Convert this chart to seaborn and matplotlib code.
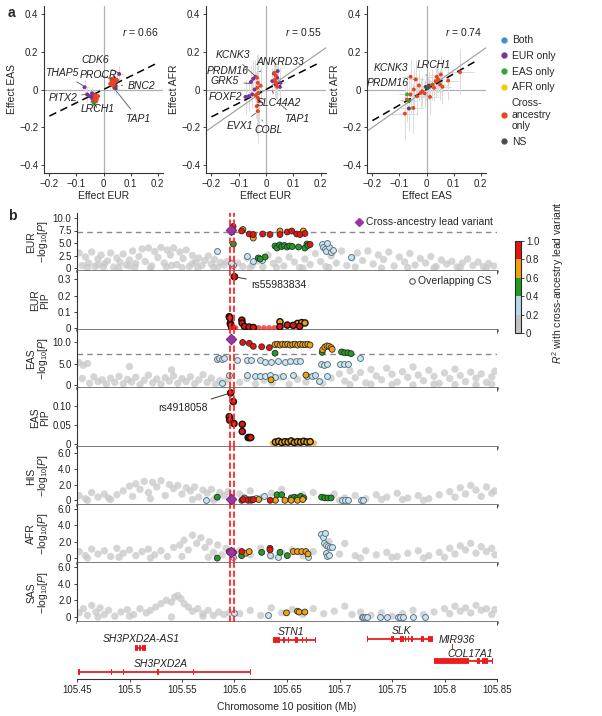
import numpy as np
import pandas as pd
import matplotlib
matplotlib.use("Agg")
import matplotlib.pyplot as plt
import seaborn as sns
from matplotlib.colors import ListedColormap, BoundaryNorm
from matplotlib.cm import ScalarMappable
from matplotlib.lines import Line2D
from matplotlib.ticker import FuncFormatter

sns.set_theme(style="ticks")
plt.rcParams["font.family"] = ["Liberation Sans", "DejaVu Sans"]
plt.rcParams["mathtext.fontset"] = "custom"
plt.rcParams["mathtext.rm"] = "Liberation Sans"
plt.rcParams["mathtext.it"] = "Liberation Sans:italic"
plt.rcParams["axes.unicode_minus"] = True

# ------------------------------------------------------------------ panel a data
a1_x = [-0.045, -0.040, -0.035, -0.050, -0.042, -0.038, -0.070, -0.060, 0.030, 0.036, 0.045, 0.058, 0.050, 0.040,
        -0.030, -0.025, -0.035, -0.020, -0.030, -0.028, 0.030, 0.035, 0.040, 0.025, 0.045, 0.035, 0.040, 0.030, 0.050, 0.033,
        -0.035, 0.045]
a1_y = [-0.040, -0.050, -0.030, -0.035, -0.020, -0.065, 0.012, -0.026, 0.050, 0.030, 0.020, 0.082, 0.045, 0.010,
        -0.040, -0.050, -0.055, -0.035, -0.030, -0.062, 0.040, 0.050, 0.035, 0.030, 0.045, 0.020, 0.060, 0.055, 0.050, 0.035,
        -0.075, 0.005]
a1_cat = ["EUR only"] * 14 + ["Cross-ancestry only"] * 16 + ["EAS only", "NS"]
a1_xerr = [0.010, 0.012, 0.010, 0.014, 0.011, 0.012, 0.015, 0.013, 0.010, 0.012, 0.011, 0.014, 0.012, 0.010,
           0.008, 0.009, 0.010, 0.008, 0.009, 0.010, 0.008, 0.009, 0.010, 0.008, 0.009, 0.008, 0.010, 0.009, 0.010, 0.008,
           0.012, 0.015]
a1_yerr = [0.030, 0.035, 0.030, 0.040, 0.032, 0.035, 0.045, 0.040, 0.030, 0.035, 0.032, 0.040, 0.035, 0.030,
           0.025, 0.028, 0.030, 0.025, 0.028, 0.030, 0.025, 0.028, 0.030, 0.025, 0.028, 0.025, 0.030, 0.028, 0.030, 0.025,
           0.035, 0.040]

a2_x = [-0.063, -0.051, -0.075, -0.042, -0.047, -0.039, 0.029, 0.041, 0.053, 0.051, 0.035, 0.023, 0.043, -0.055,
        -0.033, -0.030, -0.032, -0.028, -0.030, -0.026, -0.034, -0.030, -0.038, 0.031, 0.036, 0.033, 0.038, 0.041, 0.034, -0.020]
a2_y = [-0.035, -0.026, -0.039, 0.000, 0.056, 0.067, 0.084, 0.062, 0.035, 0.014, 0.026, 0.044, 0.097, 0.040,
        0.062, 0.035, 0.009, -0.018, -0.044, -0.062, -0.088, -0.114, -0.030, 0.088, 0.074, 0.053, 0.032, 0.014, 0.040, 0.020]
a2_cat = ["EUR only"] * 14 + ["Cross-ancestry only"] * 16
a2_xerr = [0.012, 0.011, 0.014, 0.010, 0.012, 0.011, 0.010, 0.011, 0.012, 0.010, 0.011, 0.010, 0.012, 0.013,
           0.008, 0.009, 0.008, 0.009, 0.008, 0.009, 0.008, 0.009, 0.008, 0.008, 0.009, 0.008, 0.009, 0.008, 0.009, 0.008]
a2_yerr = [0.08, 0.07, 0.09, 0.06, 0.10, 0.09, 0.07, 0.06, 0.08, 0.07, 0.06, 0.07, 0.08, 0.09,
           0.12, 0.15, 0.14, 0.18, 0.16, 0.13, 0.15, 0.17, 0.12, 0.08, 0.07, 0.09, 0.08, 0.07, 0.06, 0.10]

a3_x = [-0.059, -0.040, -0.028, -0.047, -0.059, -0.072, -0.080, -0.049, -0.034, -0.022, 0.013, 0.009, 0.022, 0.034,
        0.043, 0.053, 0.050, 0.059, 0.080, 0.124, 0.038, 0.028, -0.016, -0.007,
        -0.072, -0.065, -0.003, 0.009, -0.065, 0.004]
a3_y = [0.067, 0.053, 0.021, 0.000, -0.026, -0.053, -0.127, -0.097, -0.035, -0.018, -0.039, 0.014, 0.026, 0.044,
        0.053, 0.079, 0.026, 0.014, 0.047, 0.091, 0.067, 0.009, -0.009, -0.021,
        -0.026, -0.062, 0.014, 0.021, -0.100, 0.008]
a3_cat = ["Cross-ancestry only"] * 24 + ["EAS only"] * 2 + ["NS"] * 4
a3_xerr = [0.03, 0.03, 0.02, 0.03, 0.04, 0.03, 0.05, 0.04, 0.03, 0.02, 0.03, 0.02, 0.03, 0.03, 0.02, 0.04, 0.03, 0.03,
           0.04, 0.05, 0.03, 0.02, 0.02, 0.02, 0.03, 0.03, 0.02, 0.02, 0.03, 0.02]
a3_yerr = [0.09, 0.10, 0.08, 0.11, 0.10, 0.12, 0.14, 0.13, 0.10, 0.08, 0.09, 0.07, 0.08, 0.09, 0.07, 0.10, 0.08, 0.09,
           0.10, 0.12, 0.08, 0.07, 0.08, 0.07, 0.10, 0.11, 0.07, 0.07, 0.12, 0.06]

a_slopes = [0.70, 0.72, 0.82]
a_r = ["0.66", "0.55", "0.74"]

a1_labels = [("CDK6", -0.032, 0.153, 0.058, 0.085), ("THAP5", -0.155, 0.088, -0.070, 0.016),
             ("PROCR", -0.017, 0.074, 0.040, 0.052), ("BNC2", 0.139, 0.021, 0.060, 0.022),
             ("PITX2", -0.151, -0.044, -0.060, -0.024), ("LRCH1", -0.022, -0.102, -0.040, -0.060),
             ("TAP1", 0.128, -0.153, 0.045, -0.004)]
a2_labels = [("KCNK3", -0.122, 0.180, -0.039, 0.070), ("ANKRD33", 0.052, 0.144, -0.030, 0.090),
             ("PRDM16", -0.139, 0.097, -0.047, 0.058), ("GRK5", -0.150, 0.044, -0.052, 0.030),
             ("FOXF2", -0.150, -0.039, -0.066, -0.034), ("SLC44A2", 0.047, -0.070, 0.020, 0.000),
             ("TAP1", 0.114, -0.155, 0.050, -0.075), ("EVX1", -0.097, -0.190, -0.034, -0.120),
             ("COBL", 0.010, -0.215, -0.015, -0.160)]
a3_labels = [("KCNK3", -0.130, 0.114, -0.059, 0.070), ("LRCH1", 0.026, 0.127, -0.005, 0.070),
             ("PRDM16", -0.143, 0.032, -0.048, 0.052)]

cat_order = ["Both", "EUR only", "EAS only", "AFR only", "Cross-ancestry only", "NS"]
cat_colors = {"Both": "#3d8fd6", "EUR only": "#7b3294", "EAS only": "#33a532",
              "AFR only": "#f2c80f", "Cross-ancestry only": "#e5461f", "NS": "#4d4d4d"}

# ------------------------------------------------------------------ panel b data
lead_pos = 105.5964
lead_vals = {"EUR": 7.66, "EAS": 10.6, "HIS": 0.2, "AFR": 0.73}
gw_threshold = 7.3
red_lines = [105.5955, 105.5995]

eur_gray = [(105.452, 3.0), (105.455, 0.5), (105.458, 2.2), (105.461, 1.0), (105.464, 3.2), (105.467, 0.3),
            (105.470, 1.8), (105.473, 2.6), (105.476, 0.8), (105.479, 1.4), (105.482, 3.0), (105.485, 0.2),
            (105.488, 2.0), (105.491, 1.1), (105.494, 2.8), (105.497, 0.6), (105.500, 1.6), (105.503, 3.4),
            (105.506, 0.9), (105.509, 2.3), (105.512, 3.8), (105.515, 1.3), (105.518, 4.0), (105.521, 0.4),
            (105.524, 3.3), (105.527, 2.1), (105.530, 4.1), (105.533, 1.0), (105.536, 3.6), (105.539, 2.6),
            (105.542, 4.0), (105.545, 0.7), (105.548, 3.2), (105.551, 1.9), (105.554, 3.6), (105.557, 0.3),
            (105.560, 2.5), (105.563, 1.2), (105.566, 2.0), (105.569, 0.5), (105.572, 1.5), (105.575, 2.4),
            (105.578, 0.8), (105.581, 1.7), (105.584, 0.2), (105.587, 1.1), (105.590, 0.6), (105.593, 1.3),
            (105.460, 0.1), (105.475, 0.2), (105.490, 0.0), (105.505, 0.1), (105.520, 0.0), (105.535, 0.2),
            (105.550, 0.1), (105.565, 0.0), (105.580, 0.1), (105.470, 0.6), (105.500, 0.4), (105.540, 0.5),
            (105.560, 0.9),
            (105.603, 1.0), (105.608, 0.3), (105.612, 2.0), (105.617, 0.6), (105.622, 1.4), (105.627, 0.2),
            (105.632, 2.6), (105.637, 0.9), (105.642, 1.6), (105.647, 0.4), (105.652, 2.2), (105.657, 1.2),
            (105.662, 0.1), (105.667, 1.8), (105.672, 0.7), (105.677, 2.9), (105.682, 1.3), (105.687, 0.3),
            (105.692, 2.4), (105.697, 1.0), (105.702, 3.4), (105.707, 0.5), (105.712, 2.0), (105.717, 3.0),
            (105.722, 1.5), (105.727, 3.4), (105.732, 0.8), (105.737, 2.6), (105.742, 1.7), (105.747, 3.2),
            (105.752, 0.4), (105.757, 2.2), (105.762, 1.2), (105.767, 2.9), (105.772, 0.6), (105.777, 1.9),
            (105.782, 1.0), (105.787, 2.3), (105.792, 0.3), (105.797, 1.6), (105.802, 0.8), (105.807, 1.3),
            (105.812, 0.2), (105.817, 1.0), (105.822, 1.8), (105.827, 0.5), (105.832, 1.2), (105.837, 0.3),
            (105.842, 0.9), (105.847, 0.4), (105.615, 0.0), (105.640, 0.1), (105.665, 0.0), (105.690, 0.1),
            (105.715, 0.2), (105.740, 0.0), (105.765, 0.1), (105.790, 0.0), (105.815, 0.1), (105.840, 0.0)]

eas_gray = [(105.452, 5.2), (105.456, 4.6), (105.460, 5.0), (105.455, 1.5), (105.462, 0.4), (105.466, 1.9),
            (105.470, 0.8), (105.474, 1.2), (105.478, 0.2), (105.482, 1.6), (105.486, 0.6), (105.490, 2.0),
            (105.494, 0.3), (105.498, 1.3), (105.502, 0.7), (105.506, 1.8), (105.510, 0.1), (105.514, 1.1),
            (105.518, 2.3), (105.522, 0.5), (105.526, 1.4), (105.530, 0.2), (105.534, 1.7), (105.538, 0.9),
            (105.542, 2.1), (105.546, 0.4), (105.550, 1.5), (105.554, 0.8), (105.558, 1.9), (105.562, 0.3),
            (105.566, 1.2), (105.570, 2.4), (105.574, 0.6), (105.578, 1.6), (105.582, 0.2), (105.586, 1.0),
            (105.590, 0.5), (105.594, 1.4), (105.500, 4.3), (105.540, 3.5),
            (105.605, 0.6), (105.612, 1.5), (105.620, 0.3), (105.628, 1.1), (105.636, 0.5), (105.644, 1.8),
            (105.652, 0.2), (105.660, 1.3), (105.668, 0.7), (105.676, 2.0), (105.684, 0.4), (105.692, 1.6),
            (105.700, 2.6), (105.705, 0.9), (105.710, 3.3), (105.715, 1.7), (105.720, 2.9), (105.725, 0.5),
            (105.730, 3.6), (105.735, 2.1), (105.740, 1.2), (105.745, 3.9), (105.750, 2.5), (105.755, 0.7),
            (105.760, 3.1), (105.765, 1.8), (105.770, 4.2), (105.775, 2.3), (105.780, 1.0), (105.785, 3.4),
            (105.790, 2.0), (105.795, 0.4), (105.800, 2.8), (105.805, 1.5), (105.810, 3.7), (105.815, 2.2),
            (105.820, 0.8), (105.825, 3.0), (105.830, 1.6), (105.835, 2.6), (105.840, 0.6), (105.845, 1.9),
            (105.848, 3.2), (105.710, 0.1), (105.730, 0.2), (105.750, 0.1), (105.770, 0.0), (105.790, 0.2),
            (105.810, 0.1), (105.830, 0.0), (105.845, 0.2)]

his_gray = [(105.452, 0.6), (105.458, 0.2), (105.464, 1.0), (105.470, 0.4), (105.476, 0.8), (105.482, 0.1),
            (105.488, 0.7), (105.494, 1.2), (105.500, 1.8), (105.503, 0.5), (105.506, 2.1), (105.510, 1.4),
            (105.514, 2.4), (105.518, 1.0), (105.522, 2.3), (105.526, 1.7), (105.530, 2.5), (105.534, 0.6),
            (105.538, 2.0), (105.542, 1.5), (105.546, 1.9), (105.550, 0.8), (105.554, 1.6), (105.558, 1.2),
            (105.562, 1.7), (105.566, 0.4), (105.570, 1.3), (105.574, 0.9), (105.578, 1.4), (105.582, 0.3),
            (105.586, 1.0), (105.590, 0.6), (105.594, 1.1), (105.598, 0.4), (105.460, 0.0), (105.480, 0.3),
            (105.520, 0.2), (105.560, 0.1), (105.580, 0.0),
            (105.605, 0.8), (105.615, 1.2), (105.625, 0.3), (105.635, 0.9), (105.645, 1.4), (105.655, 0.2),
            (105.665, 0.7), (105.675, 1.0), (105.685, 0.4), (105.695, 0.8), (105.705, 0.3), (105.715, 0.6),
            (105.725, 0.2), (105.735, 0.7), (105.745, 0.4), (105.755, 0.9), (105.765, 0.3), (105.775, 0.6),
            (105.785, 0.2), (105.795, 0.7), (105.805, 1.1), (105.810, 0.4), (105.815, 1.6), (105.820, 0.8),
            (105.825, 1.9), (105.830, 1.3), (105.835, 0.5), (105.840, 1.7), (105.845, 0.9), (105.848, 1.2),
            (105.700, 0.0), (105.740, 0.1), (105.780, 0.0), (105.760, 0.1)]

afr_gray = [(105.452, 0.8), (105.458, 0.3), (105.464, 1.1), (105.470, 0.5), (105.476, 0.9), (105.482, 0.2),
            (105.488, 1.2), (105.494, 0.6), (105.500, 1.0), (105.506, 0.3), (105.512, 0.8), (105.518, 1.1),
            (105.524, 0.4), (105.530, 0.9), (105.536, 0.2), (105.542, 1.3), (105.548, 1.6), (105.552, 2.2),
            (105.556, 1.0), (105.560, 2.8), (105.564, 1.8), (105.568, 2.5), (105.572, 1.3), (105.576, 2.0),
            (105.580, 0.7), (105.584, 1.6), (105.588, 0.4), (105.592, 1.2), (105.596, 0.6), (105.460, 0.0),
            (105.490, 0.1), (105.520, 0.0), (105.550, 0.2), (105.575, 0.1),
            (105.605, 0.9), (105.615, 0.4), (105.625, 1.2), (105.635, 0.2), (105.645, 0.7), (105.655, 1.0),
            (105.665, 0.3), (105.675, 0.8), (105.690, 2.0), (105.700, 0.5), (105.705, 1.8), (105.715, 0.3),
            (105.725, 0.9), (105.735, 0.4), (105.745, 0.7), (105.755, 0.2), (105.765, 0.6), (105.775, 0.9),
            (105.785, 0.3), (105.795, 0.7), (105.805, 1.2), (105.810, 0.5), (105.815, 1.5), (105.820, 1.0),
            (105.825, 1.8), (105.830, 0.6), (105.835, 1.4), (105.840, 0.8), (105.845, 1.2), (105.848, 0.4),
            (105.720, 0.0), (105.750, 0.1), (105.780, 0.0), (105.800, 0.1)]

sas_gray = [(105.452, 0.5), (105.456, 1.0), (105.460, 0.2), (105.464, 1.4), (105.468, 0.6), (105.472, 1.1),
            (105.476, 0.3), (105.480, 0.8), (105.486, 0.1), (105.492, 0.6), (105.498, 0.9), (105.504, 0.3),
            (105.510, 1.0), (105.516, 0.5), (105.520, 0.8), (105.525, 1.2), (105.530, 1.6), (105.535, 2.0),
            (105.540, 1.8), (105.543, 2.4), (105.546, 2.6), (105.549, 2.2), (105.552, 1.6), (105.556, 1.2),
            (105.560, 0.7), (105.565, 1.0), (105.570, 0.4), (105.575, 0.8), (105.580, 0.2), (105.585, 0.6),
            (105.590, 0.3), (105.595, 0.5), (105.470, 0.0), (105.500, 0.1), (105.540, 0.0), (105.570, 0.1),
            (105.605, 0.4), (105.615, 0.8), (105.625, 0.2), (105.635, 1.1), (105.645, 0.5), (105.655, 0.9),
            (105.665, 0.3), (105.675, 1.0), (105.685, 0.4), (105.695, 0.7), (105.705, 1.3), (105.712, 0.3),
            (105.720, 0.6), (105.730, 0.2), (105.740, 0.5), (105.750, 0.1), (105.760, 0.4), (105.770, 0.8),
            (105.780, 0.3), (105.790, 0.6), (105.800, 1.0), (105.805, 0.4), (105.810, 1.3), (105.815, 0.7),
            (105.820, 1.1), (105.825, 0.5), (105.830, 1.4), (105.835, 0.8), (105.840, 1.0), (105.845, 0.3),
            (105.848, 0.9)]

# (position, value, R2 with lead variant)
eur_col = [(105.5986, 8.3, 0.9), (105.5989, 4.8, 0.5), (105.5836, 3.46, 0.3), (105.5990, 0.6, 0.3), (105.5970, 1.0, 0.3),
           (105.6068, 7.4, 0.9), (105.6080, 7.7, 0.7), (105.6141, 6.8, 0.9), (105.6179, 6.7, 0.9), (105.6179, 6.0, 0.7),
           (105.6268, 6.8, 0.9), (105.6338, 6.7, 0.9), (105.6433, 7.4, 0.7), (105.6433, 6.7, 0.9), (105.6503, 7.2, 0.9),
           (105.6545, 7.4, 0.9), (105.6592, 6.8, 0.9), (105.6624, 6.7, 0.9), (105.6655, 7.4, 0.7), (105.6671, 6.9, 0.9),
           (105.6386, 4.4, 0.5), (105.6405, 4.0, 0.5), (105.6430, 4.6, 0.5), (105.6450, 4.3, 0.5), (105.6475, 4.5, 0.5),
           (105.6500, 4.2, 0.5), (105.6525, 4.4, 0.5), (105.6550, 4.3, 0.5), (105.6610, 4.2, 0.5), (105.6670, 4.0, 0.5),
           (105.6690, 4.8, 0.5), (105.6700, 4.5, 0.5), (105.6720, 4.7, 0.9), (105.6227, 2.0, 0.5), (105.6291, 2.2, 0.5),
           (105.6245, 1.8, 0.5), (105.6116, 2.5, 0.3), (105.6179, 1.5, 0.3), (105.6259, 1.6, 0.3), (105.6830, 4.8, 0.3),
           (105.6845, 4.3, 0.3), (105.6860, 3.8, 0.3), (105.6870, 3.4, 0.3), (105.6900, 4.2, 0.3), (105.6920, 3.3, 0.3),
           (105.6940, 3.6, 0.3), (105.7106, 2.3, 0.3), (105.6880, 5.0, 0.3)]

eas_col = [(105.6078, 9.9, 0.9), (105.6141, 9.7, 0.9), (105.6179, 9.0, 0.9), (105.6259, 8.9, 0.9), (105.6332, 8.7, 0.9),
           (105.6386, 7.4, 0.5),
           (105.6386, 9.4, 0.7), (105.6410, 9.5, 0.7), (105.6434, 9.3, 0.7), (105.6458, 9.5, 0.7), (105.6482, 9.4, 0.7),
           (105.6506, 9.5, 0.7), (105.6530, 9.3, 0.7), (105.6554, 9.4, 0.7), (105.6578, 9.5, 0.7), (105.6602, 9.3, 0.7),
           (105.6626, 9.5, 0.7), (105.6650, 9.4, 0.7), (105.6674, 9.4, 0.7), (105.6698, 9.5, 0.7), (105.6719, 9.3, 0.7),
           (105.6840, 8.2, 0.7), (105.6860, 8.8, 0.7), (105.6880, 9.1, 0.7), (105.6900, 9.0, 0.7), (105.6920, 8.7, 0.7),
           (105.6930, 8.3, 0.7), (105.6835, 7.6, 0.5), (105.7020, 7.7, 0.5), (105.7050, 7.5, 0.5), (105.7080, 7.5, 0.5),
           (105.7110, 7.3, 0.5), (105.7195, 6.3, 0.3),
           (105.5830, 6.0, 0.3), (105.5855, 6.2, 0.3), (105.5878, 6.0, 0.3), (105.5900, 6.2, 0.3), (105.6020, 5.9, 0.3),
           (105.6116, 5.8, 0.3), (105.6160, 5.9, 0.3), (105.6240, 5.8, 0.3), (105.6290, 5.3, 0.3), (105.6350, 5.3, 0.3),
           (105.6414, 5.5, 0.3), (105.6478, 5.4, 0.3), (105.6525, 5.6, 0.3), (105.6590, 5.6, 0.3), (105.6620, 5.5, 0.3),
           (105.6820, 4.9, 0.3), (105.6850, 4.7, 0.3), (105.6880, 5.0, 0.3), (105.7000, 4.9, 0.3), (105.7040, 4.8, 0.3),
           (105.7080, 4.9, 0.3),
           (105.5878, 0.5, 0.3), (105.5950, 2.3, 0.3), (105.6116, 2.3, 0.3), (105.6195, 2.0, 0.3), (105.6240, 2.2, 0.3),
           (105.6290, 2.0, 0.3), (105.6340, 2.3, 0.3), (105.6386, 1.8, 0.3), (105.6465, 2.1, 0.3), (105.6560, 2.3, 0.3),
           (105.6690, 2.2, 0.3), (105.6735, 2.0, 0.3), (105.6770, 2.3, 0.3), (105.6800, 1.0, 0.3), (105.6880, 2.1, 0.3),
           (105.6348, 1.2, 0.7), (105.6680, 2.3, 0.7)]

his_col = [(105.5729, 0.0, 0.3), (105.5836, 0.4, 0.5), (105.6070, 0.0, 0.9), (105.6085, 0.1, 0.9), (105.6130, 0.0, 0.9),
           (105.6160, 0.0, 0.9), (105.6180, 0.1, 0.9), (105.6340, 0.0, 0.9), (105.6095, 0.3, 0.7), (105.6230, 0.1, 0.7),
           (105.6390, 0.0, 0.7), (105.6480, 0.0, 0.7), (105.6540, 0.0, 0.7), (105.6600, 0.0, 0.7), (105.6650, 0.1, 0.7),
           (105.6405, 0.7, 0.5), (105.6450, 0.7, 0.5), (105.6540, 0.3, 0.5), (105.6570, 0.4, 0.5), (105.6600, 0.3, 0.5),
           (105.6630, 0.5, 0.5), (105.6660, 0.3, 0.5), (105.6830, 0.4, 0.5), (105.6860, 0.3, 0.5), (105.6890, 0.3, 0.5),
           (105.6920, 0.3, 0.5), (105.6115, 0.2, 0.3), (105.6150, 0.2, 0.3), (105.6200, 0.3, 0.3), (105.6280, 0.6, 0.3),
           (105.7020, 0.1, 0.3), (105.7050, 0.1, 0.3), (105.7080, 0.1, 0.3), (105.7200, 0.0, 0.3), (105.7220, 0.0, 0.3)]

afr_col = [(105.5836, 0.0, 0.5), (105.5950, 0.8, 0.9), (105.5990, 0.7, 0.9), (105.6070, 0.8, 0.9), (105.6338, 1.2, 0.9),
           (105.6338, 1.0, 0.9), (105.6068, 0.3, 0.5), (105.6259, 0.7, 0.5), (105.6433, 0.7, 0.5), (105.6503, 0.3, 0.5),
           (105.6110, 0.6, 0.7), (105.6140, 0.8, 0.7), (105.6560, 0.8, 0.7), (105.6600, 0.8, 0.7), (105.6640, 0.8, 0.7),
           (105.6680, 0.8, 0.7), (105.6700, 0.5, 0.7), (105.6338, 0.4, 0.3), (105.6414, 0.1, 0.3), (105.6700, 0.1, 0.3),
           (105.5990, 0.1, 0.3), (105.6820, 3.0, 0.3), (105.6840, 2.6, 0.3), (105.6860, 3.1, 0.3), (105.6850, 1.9, 0.3),
           (105.6870, 1.6, 0.3), (105.6890, 1.5, 0.3), (105.6910, 1.3, 0.3), (105.6930, 1.4, 0.3), (105.6870, 0.6, 0.3),
           (105.6880, 0.2, 0.3), (105.6900, 0.4, 0.3)]

sas_col = [(105.5994, 0.5, 0.3), (105.6320, 0.2, 0.3), (105.6495, 0.5, 0.7), (105.6600, 0.7, 0.7), (105.6615, 0.6, 0.7),
           (105.6670, 0.6, 0.7), (105.7210, 0.0, 0.3), (105.7225, 0.0, 0.3), (105.7240, 0.0, 0.3), (105.7260, 0.0, 0.3),
           (105.7390, 0.0, 0.3), (105.7450, 0.0, 0.3), (105.7560, 0.0, 0.3), (105.7580, 0.0, 0.3), (105.7600, 0.0, 0.3),
           (105.7700, 0.0, 0.3), (105.7810, 0.0, 0.3)]

# (position, PIP, R2, in credible set)
eur_pip = [(105.5999, 0.315, 0.9, 1), (105.5950, 0.071, 0.9, 1), (105.5955, 0.064, 0.9, 1), (105.5960, 0.030, 0.9, 1),
           (105.5965, 0.020, 0.9, 1), (105.5975, 0.002, 0.9, 1), (105.6070, 0.050, 0.9, 1), (105.6073, 0.032, 0.9, 1),
           (105.6095, 0.012, 0.9, 1), (105.6140, 0.008, 0.9, 1), (105.6180, 0.005, 0.9, 1), (105.6230, 0.003, 0.9, 0),
           (105.6280, 0.003, 0.9, 0), (105.6330, 0.003, 0.9, 0), (105.6380, 0.003, 0.9, 0), (105.6010, 0.003, 0.9, 0),
           (105.6433, 0.040, 0.7, 1), (105.6433, 0.010, 0.9, 1), (105.6503, 0.020, 0.9, 1), (105.6560, 0.018, 0.9, 1),
           (105.6600, 0.030, 0.7, 1), (105.6640, 0.035, 0.7, 1), (105.6671, 0.033, 0.7, 1), (105.6620, 0.012, 0.9, 1)]
eas_pip = [(105.5964, 0.135, 0.9, 1), (105.5989, 0.112, 0.9, 1), (105.5950, 0.072, 0.9, 1), (105.5955, 0.063, 0.9, 1),
           (105.5995, 0.054, 0.9, 1), (105.6074, 0.052, 0.9, 1), (105.6074, 0.033, 0.9, 1), (105.6130, 0.017, 0.9, 1),
           (105.6145, 0.017, 0.9, 1), (105.6155, 0.017, 0.9, 1),
           (105.6360, 0.002, 0.7, 0), (105.6400, 0.002, 0.7, 0), (105.6460, 0.002, 0.7, 0), (105.6550, 0.002, 0.7, 0),
           (105.6640, 0.002, 0.7, 0), (105.6720, 0.002, 0.7, 0), (105.6760, 0.002, 0.7, 0),
           (105.6390, 0.005, 0.7, 1), (105.6420, 0.007, 0.7, 1), (105.6450, 0.004, 0.7, 1), (105.6480, 0.006, 0.7, 1),
           (105.6510, 0.005, 0.7, 1), (105.6540, 0.008, 0.7, 1), (105.6570, 0.004, 0.7, 1), (105.6600, 0.006, 0.7, 1),
           (105.6630, 0.005, 0.7, 1), (105.6660, 0.007, 0.7, 1), (105.6690, 0.005, 0.7, 1), (105.6720, 0.006, 0.7, 1)]

rs_labels = [("rs55983834", 105.5999, 0.315, 105.6157, 0.264), ("rs4918058", 105.5964, 0.135, 105.5748, 0.096)]

gene_names = ["SH3PXD2A-AS1", "SH3PXD2A", "STN1", "SLK", "MIR936", "COL17A1"]
gene_start = [105.505, 105.451, 105.637, 105.726, 105.8075, 105.790]
gene_end = [105.516, 105.616, 105.678, 105.789, 105.8085, 105.846]
gene_exons = [
    [(105.505, 105.508), (105.509, 105.511), (105.512, 105.516)],
    [(105.451, 105.4525), (105.4825, 105.4838), (105.4935, 105.4948), (105.5265, 105.5278), (105.5605, 105.5618), (105.6145, 105.616)],
    [(105.637, 105.6435), (105.6465, 105.6477), (105.6505, 105.6517), (105.6575, 105.6605), (105.664, 105.6652), (105.668, 105.6692), (105.6765, 105.678)],
    [(105.726, 105.7275), (105.7495, 105.7515), (105.7575, 105.761), (105.762, 105.7635), (105.765, 105.766), (105.7685, 105.7697), (105.7775, 105.7805), (105.7845, 105.789)],
    [(105.8075, 105.8085)],
    [(105.790, 105.823), (105.8305, 105.834), (105.836, 105.8415), (105.845, 105.846)],
]
# track layout (pixel rows inside the gene axis)
gene_row_y = [648, 672, 640, 638.6, 647, 661]
gene_lab_x = [105.511, 105.530, 105.654, 105.759, 105.812, 105.824]
gene_lab_y = [639, 664, 632, 631.5, 640, 654]

R2_COLORS = ["#c3c3c3", "#b8d9ea", "#1f9e24", "#f3a10e", "#e8150d"]
R2_PAL = {f"c{i}": c for i, c in enumerate(R2_COLORS)}
LB_FILL, LB_EDGE = "#cde3ee", "#5b7788"
GRAY_PT = "#c8c8c8"
LEAD_COLOR = "#9b35a6"
RED_LINE = "#ff2a2a"

# ------------------------------------------------------------------ figure
W, H = 602, 716
fig = plt.figure(figsize=(W / 100, H / 100), dpi=100)


def px_axes(l, t, r, b):
    return fig.add_axes([l / W, 1 - b / H, (r - l) / W, (b - t) / H])


def fmt_a(v, pos):
    return "0" if abs(v) < 1e-9 else f"{v:.1f}".replace("-", "\u2212")


def scatter_panel(ax, x, y, xe, ye, cat, slope, identity, r, xlabel, ylabel, labels, dash_end=0.2):
    ax.errorbar(x, y, xerr=xe, yerr=ye, fmt="none", ecolor="#dadada", elinewidth=0.7, zorder=1)
    ax.axhline(0, color="#b0b0b0", lw=0.9, zorder=0.5)
    ax.axvline(0, color="#b0b0b0", lw=0.9, zorder=0.5)
    if identity:
        ax.axline((0, 0), slope=1, color="#9a9a9a", lw=0.8, zorder=2)
    ax.plot([-0.2, dash_end], [-0.2 * slope, dash_end * slope], color="black", lw=1.1, dashes=(5, 3), zorder=2)
    df = pd.DataFrame({"x": x, "y": y, "cat": cat})
    sns.scatterplot(data=df, x="x", y="y", hue="cat", palette=cat_colors, s=8, edgecolor="none",
                    legend=False, ax=ax, zorder=3)
    for name, tx, ty, px_, py_ in labels:
        ax.annotate(name, xy=(px_, py_), xytext=(tx, ty), ha="center", va="center", fontsize=7.5,
                    fontstyle="italic", color="#222222",
                    arrowprops=dict(arrowstyle="-", color="#555555", lw=0.6, shrinkA=1, shrinkB=1))
    ax.text(0.205, 0.302, f"$r$ = {r}", ha="right", va="center", fontsize=7.5, color="#222222")
    ax.set_xlim(-0.22, 0.22)
    ax.set_ylim(-0.44, 0.44)
    ax.set_xticks([-0.2, -0.1, 0, 0.1, 0.2])
    ax.set_yticks([-0.4, -0.2, 0, 0.2, 0.4])
    ax.xaxis.set_major_formatter(FuncFormatter(fmt_a))
    ax.yaxis.set_major_formatter(FuncFormatter(fmt_a))
    ax.set_xlabel(xlabel, fontsize=7.5, labelpad=2)
    ax.set_ylabel(ylabel, fontsize=7.5, labelpad=2)
    ax.tick_params(labelsize=7, length=2.5, width=0.6, pad=1.5, colors="#222222")
    for s in ["top", "right"]:
        ax.spines[s].set_visible(False)
    for s in ["left", "bottom"]:
        ax.spines[s].set_linewidth(0.8)
        ax.spines[s].set_color("#333333")


axA1 = px_axes(44, 6, 163, 173)
axA2 = px_axes(206, 6, 326, 173)
axA3 = px_axes(367, 6, 486, 173)
scatter_panel(axA1, a1_x, a1_y, a1_xerr, a1_yerr, a1_cat, a_slopes[0], False, a_r[0], "Effect EUR", "Effect EAS", a1_labels)
scatter_panel(axA2, a2_x, a2_y, a2_xerr, a2_yerr, a2_cat, a_slopes[1], True, a_r[1], "Effect EUR", "Effect AFR", a2_labels, 0.195)
scatter_panel(axA3, a3_x, a3_y, a3_xerr, a3_yerr, a3_cat, a_slopes[2], True, a_r[2], "Effect EAS", "Effect AFR", a3_labels, 0.185)

handles = [Line2D([], [], marker="o", ls="none", color=cat_colors[c], markersize=3.5) for c in cat_order]
leg_labels = ["Both", "EUR only", "EAS only", "AFR only", "Cross-\nancestry\nonly", "NS"]
fig.legend(handles, leg_labels, loc="upper left", bbox_to_anchor=(495 / W, 1 - 30 / H), frameon=False,
           fontsize=7.5, handletextpad=0.3, handlelength=0.8, labelspacing=0.55, borderpad=0)

fig.text(8 / W, 1 - 13 / H, "a", fontsize=10, fontweight="bold", va="center")
fig.text(8 / W, 1 - 216 / H, "b", fontsize=10, fontweight="bold", va="center")

# ------------------------------------------------------------------ panel b
XL = (105.45, 105.85)
XT = [105.45, 105.5, 105.55, 105.6, 105.65, 105.7, 105.75, 105.8, 105.85]


def style_b(ax, ylim, yticks, yfmt, label):
    ax.set_xlim(*XL)
    ax.set_ylim(*ylim)
    ax.set_xticks(XT)
    ax.set_xticklabels([])
    ax.set_yticks(yticks)
    ax.yaxis.set_major_formatter(FuncFormatter(yfmt))
    ax.tick_params(axis="y", labelsize=7, length=2.5, width=0.6, pad=1.5, colors="#222222")
    ax.tick_params(axis="x", length=2, width=0.6, direction="out", colors="#333333")
    ax.spines["top"].set_visible(False)
    ax.spines["right"].set_visible(False)
    ax.spines["left"].set_linewidth(0.8)
    ax.spines["left"].set_color("#333333")
    ax.spines["bottom"].set_linewidth(1.8)
    ax.spines["bottom"].set_color("#555555")
    ax.set_xlabel("")
    ax.set_ylabel(label, fontsize=7.5, linespacing=1.0)
    ax.yaxis.set_label_coords(-0.064, 0.5)
    for xv in red_lines:
        ax.axvline(xv, color=RED_LINE, lw=1.3, dashes=(3.5, 1.5), zorder=6)


def colored_points(ax, pts, s=18):
    df = pd.DataFrame(pts, columns=["pos", "val", "r2"])
    df["bin"] = [f"c{min(int(r / 0.2), 4)}" for r in df["r2"]]
    df = df.sort_values("r2", kind="stable")
    lb = df[df["bin"] == "c1"]
    rest = df[df["bin"] != "c1"]
    if len(lb):
        sns.scatterplot(data=lb, x="pos", y="val", color=LB_FILL, edgecolor=LB_EDGE, linewidth=0.7, s=s,
                        legend=False, ax=ax, zorder=4)
    if len(rest):
        sns.scatterplot(data=rest, x="pos", y="val", hue="bin", palette=R2_PAL, edgecolor="#2a2a2a",
                        linewidth=0.6, s=s, legend=False, ax=ax, zorder=5)


def manhattan(ax, gray, col, ylim, yticks, yfmt, label, lead=None, thresh=False):
    g = pd.DataFrame(gray, columns=["pos", "val"])
    sns.scatterplot(data=g, x="pos", y="val", color=GRAY_PT, alpha=0.75, s=28, edgecolor="none",
                    legend=False, ax=ax, zorder=2)
    if thresh:
        ax.axhline(gw_threshold, color="#8a8a8a", lw=1.0, dashes=(4, 3), zorder=1)
    colored_points(ax, col)
    if lead is not None:
        sns.scatterplot(x=[lead_pos], y=[lead], marker="D", color=LEAD_COLOR, edgecolor="#5a1a60",
                        linewidth=0.5, s=30, legend=False, ax=ax, zorder=7)
    style_b(ax, ylim, yticks, yfmt, label)


def pip_panel(ax, pts, ylim, yticks, yfmt, label):
    df = pd.DataFrame(pts, columns=["pos", "val", "r2", "cs"])
    df["bin"] = [f"c{min(int(r / 0.2), 4)}" for r in df["r2"]]
    out = df[df["cs"] == 0]
    inn = df[df["cs"] == 1].sort_values("r2", kind="stable")
    sns.scatterplot(data=out, x="pos", y="val", hue="bin", palette=R2_PAL, edgecolor="none", s=16, alpha=0.7,
                    legend=False, ax=ax, zorder=3)
    sns.scatterplot(data=inn, x="pos", y="val", hue="bin", palette=R2_PAL, edgecolor="#111111", linewidth=1.0,
                    s=20, legend=False, ax=ax, zorder=5)
    style_b(ax, ylim, yticks, yfmt, label)


def f_p(v, pos):
    return "0" if abs(v) < 1e-9 else f"{v:.1f}"


def f_pip2(v, pos):
    return "0" if abs(v) < 1e-9 else f"{v:.2f}"


def lab_p(pop):
    return f"{pop}\n\u2212log$_{{10}}$[$P$]"


axE = px_axes(77, 213, 497, 271)
manhattan(axE, eur_gray, eur_col, (-0.6, 11.0), [0, 2.5, 5, 7.5, 10], f_p, lab_p("EUR"), lead_vals["EUR"], True)
axE.legend([Line2D([], [], marker="D", ls="none", color=LEAD_COLOR, markersize=4.5)], ["Cross-ancestry lead variant"],
           loc="upper right", frameon=False, fontsize=7.5, handletextpad=0.2, handlelength=1.0,
           borderaxespad=0.2, borderpad=0.2)

axEP = px_axes(77, 271, 497, 330)
pip_panel(axEP, eur_pip, (-0.01, 0.35), [0, 0.1, 0.2, 0.3], f_p, "EUR\nPIP")
axEP.legend([Line2D([], [], marker="o", ls="none", mfc="white", mec="#555555", mew=0.8, markersize=4)],
            ["Overlapping CS"], loc="upper right", frameon=False, fontsize=7.5, handletextpad=0.1,
            handlelength=1.0, borderaxespad=0.3, borderpad=0.2)

axS = px_axes(77, 330, 497, 388)
manhattan(axS, eas_gray, eas_col, (-0.7, 12.8), [0, 5, 10], f_p, lab_p("EAS"), lead_vals["EAS"], True)

axSP = px_axes(77, 388, 497, 447)
pip_panel(axSP, eas_pip, (-0.008, 0.148), [0, 0.05, 0.10], f_pip2, "EAS\nPIP")

axH = px_axes(77, 447, 497, 505)
manhattan(axH, his_gray, his_col, (-0.6, 6.8), [0, 2, 4, 6], f_p, lab_p("HIS"), lead_vals["HIS"])
axF = px_axes(77, 505, 497, 563)
manhattan(axF, afr_gray, afr_col, (-0.6, 6.5), [0, 2, 4, 6], f_p, lab_p("AFR"), lead_vals["AFR"])
axSA = px_axes(77, 563, 497, 622)
manhattan(axSA, sas_gray, sas_col, (-0.6, 6.5), [0, 2, 4, 6], f_p, lab_p("SAS"))

for (name, px_, py_, tx, ty), ax in zip(rs_labels, [axEP, axSP]):
    ax.annotate(name, xy=(px_, py_), xytext=(tx, ty), ha="left" if tx > px_ else "right", va="center",
                fontsize=7.5, color="#222222",
                arrowprops=dict(arrowstyle="-", color="#333333", lw=0.7, shrinkA=1, shrinkB=2), zorder=8)

# gene track
axG = px_axes(77, 622, 497, 679)
for i, name in enumerate(gene_names):
    yy = gene_row_y[i]
    axG.hlines(yy, gene_start[i], gene_end[i], color="#ee1c1c", lw=1.3)
    for (s0, s1) in gene_exons[i]:
        axG.hlines(yy, s0, s1, color="#ee1c1c", lw=4.2)
    axG.text(gene_lab_x[i], gene_lab_y[i], name, ha="center", va="center", fontsize=7.5, fontstyle="italic",
             color="#222222")
axG.set_xlim(*XL)
axG.set_ylim(679, 622)
axG.set_yticks([])
axG.set_xticks(XT)
axG.set_xticklabels([f"{v:g}" for v in XT])
axG.tick_params(axis="x", labelsize=7, length=2.5, width=0.6, pad=2, colors="#222222")
for s in ["top", "right", "left"]:
    axG.spines[s].set_visible(False)
axG.spines["bottom"].set_linewidth(0.8)
axG.spines["bottom"].set_color("#333333")
axG.set_xlabel("Chromosome 10 position (Mb)", fontsize=7.5, labelpad=5)

# colorbar
cax = px_axes(515, 241, 521, 333)
cmap = ListedColormap(R2_COLORS)
norm = BoundaryNorm([0, 0.2, 0.4, 0.6, 0.8, 1.0], cmap.N)
cb = fig.colorbar(ScalarMappable(norm=norm, cmap=cmap), cax=cax, ticks=[0, 0.2, 0.4, 0.6, 0.8, 1.0])
cb.ax.set_yticklabels(["0", "0.2", "0.4", "0.6", "0.8", "1.0"])
cb.ax.tick_params(labelsize=7, length=2, width=0.6, pad=1.5)
cb.outline.set_linewidth(0.8)
cb.set_label("$R^2$ with cross-ancestry lead variant", fontsize=7.5, labelpad=4)
cb.ax.yaxis.set_label_coords(5.9, 0.55)

fig.savefig("out.png", dpi=100)
